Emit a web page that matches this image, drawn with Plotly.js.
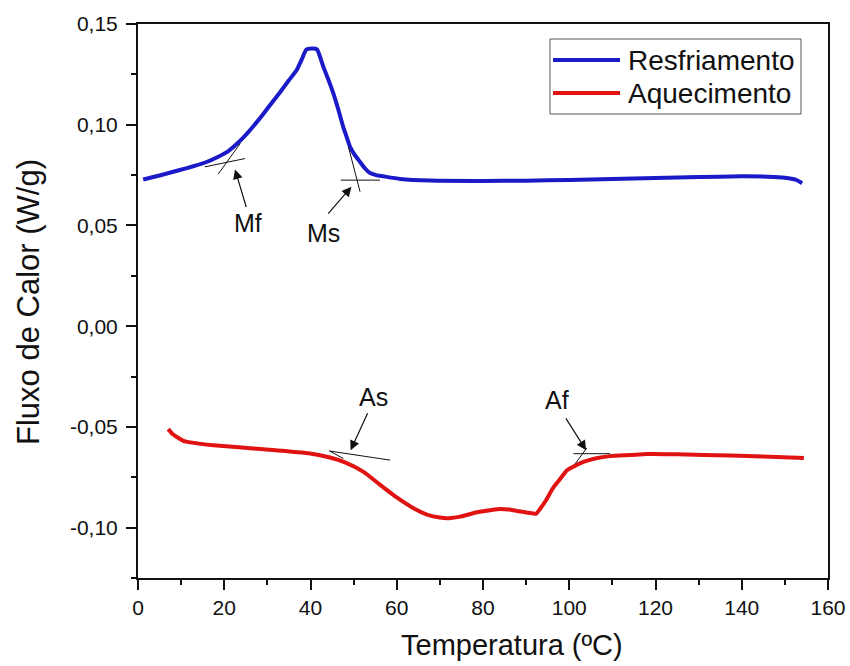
<!DOCTYPE html>
<html>
<head>
<meta charset="utf-8">
<script src="https://cdn.plot.ly/plotly-3.0.1.min.js"></script>
<style>html,body{margin:0;padding:0;background:#fff;}#chart{width:850px;height:666px;}</style>
</head>
<body>
<div id="chart"></div>
<script>
// Resfriamento (cooling) curve
const coolT = [1.2, 5, 9.7, 13, 15.9, 18.5, 20.6, 22.5, 24.4, 26.8, 29.1, 31, 32.9, 34.9, 36.8, 38, 39, 40.3, 41.5, 43.0, 44.2, 45.3, 46.5, 47.6, 48.4, 49.2, 50.3, 51.5, 52.6, 53.8, 55.2, 56.9, 60.8, 67.7, 80, 90, 100, 110, 120, 130, 140, 146, 150, 152.5, 154];
const coolQ = [0.0728, 0.0748, 0.0775, 0.0795, 0.0815, 0.0840, 0.0864, 0.0897, 0.0936, 0.0994, 0.1055, 0.1108, 0.1160, 0.1218, 0.1272, 0.1326, 0.1372, 0.1378, 0.1374, 0.1286, 0.1221, 0.1156, 0.1072, 0.0988, 0.0938, 0.0889, 0.0849, 0.0815, 0.0784, 0.0760, 0.0750, 0.0744, 0.0731, 0.0723, 0.0721, 0.0722, 0.0726, 0.0731, 0.0736, 0.0740, 0.0744, 0.0742, 0.0737, 0.0727, 0.0710];
// Aquecimento (heating) curve
const heatT = [7.0, 8, 10.5, 12.5, 17.5, 29.1, 39.9, 44.5, 48, 52.3, 56, 60, 64, 67, 70, 72, 75, 78.6, 82, 84.0, 86, 87.9, 90, 91.7, 92.3, 93.3, 94.5, 96.4, 98, 99.5, 101, 103.3, 106, 109.5, 114.2, 118, 125, 137.4, 145, 154.4];
const heatQ = [-0.0511, -0.0535, -0.0569, -0.0578, -0.0591, -0.0611, -0.0632, -0.0652, -0.0676, -0.0723, -0.0785, -0.0850, -0.0905, -0.0935, -0.0950, -0.0953, -0.0944, -0.0924, -0.0912, -0.0907, -0.0910, -0.0917, -0.0925, -0.0930, -0.0931, -0.0905, -0.0868, -0.0798, -0.0755, -0.0715, -0.0697, -0.0674, -0.0657, -0.0645, -0.0640, -0.0635, -0.0636, -0.0642, -0.0647, -0.0654];

// tangent construction lines [x0, x1], [y0, y1]
const mfLine1T = [15.5, 24.8], mfLine1Q = [0.0791, 0.0832];
const mfLine2T = [18.6, 23.7], mfLine2Q = [0.0755, 0.0907];
const msLine1T = [47.0, 56.1], msLine1Q = [0.0725, 0.0725];
const msLine2T = [48.8, 51.5], msLine2Q = [0.0890, 0.0667];
const asLine1T = [44.5, 58.5], asLine1Q = [-0.0620, -0.0665];
const asLine2T = [44.3, 47.6], asLine2Q = [-0.0618, -0.0657];
const afLine1T = [101.0, 109.5], afLine1Q = [-0.0633, -0.0633];
const afLine2T = [101.4, 104.1], afLine2Q = [-0.0682, -0.0604];

// labels: text, label position, arrow tail, arrow head
const markNames = ['Mf', 'Ms', 'As', 'Af'];
const markLabelT = [25.6, 43.0, 54.6, 97.1];
const markLabelQ = [0.0510, 0.0463, -0.0351, -0.0367];
const arrowTailT = [25.2, 43.8, 53.4, 99.0];
const arrowTailQ = [0.0584, 0.0551, -0.0425, -0.0450];
const arrowHeadT = [22.5, 49.5, 49.3, 103.9];
const arrowHeadQ = [0.0778, 0.0692, -0.0616, -0.0616];

const xTickVals = [0, 20, 40, 60, 80, 100, 120, 140, 160];
const xTickText = ['0', '20', '40', '60', '80', '100', '120', '140', '160'];
const yTickVals = [-0.10, -0.05, 0, 0.05, 0.10, 0.15];
const yTickText = ['-0,10', '-0,05', '0,00', '0,05', '0,10', '0,15'];

const seriesNames = ['Resfriamento', 'Aquecimento'];
const xTitle = 'Temperatura (ºC)';
const yTitle = 'Fluxo de Calor (W/g)';
const blue = '#1a1ac8', red = '#e01212';
const FONT = 'Liberation Sans, Arial, sans-serif';

const L = 138, R = 828, T = 24, B = 578;
const px = v => (v - L) / (R - L);
const py = v => (B - v) / (B - T);

function thin(xs, ys) {
  return {x: xs, y: ys, mode: 'lines', line: {color: '#111', width: 1}, showlegend: false, hoverinfo: 'skip'};
}

const traces = [
  {x: coolT, y: coolQ, mode: 'lines', name: seriesNames[0], line: {color: blue, width: 4, shape: 'spline', smoothing: 0.5}, showlegend: false},
  {x: heatT, y: heatQ, mode: 'lines', name: seriesNames[1], line: {color: red, width: 4, shape: 'spline', smoothing: 0.5}, showlegend: false},
  thin(mfLine1T, mfLine1Q), thin(mfLine2T, mfLine2Q),
  thin(msLine1T, msLine1Q), thin(msLine2T, msLine2Q),
  thin(asLine1T, asLine1Q), thin(asLine2T, asLine2Q),
  thin(afLine1T, afLine1Q), thin(afLine2T, afLine2Q)
];

const annotations = [];
for (let i = 0; i < markNames.length; i++) {
  annotations.push({x: markLabelT[i], y: markLabelQ[i], xref: 'x', yref: 'y', text: markNames[i], showarrow: false,
    font: {family: FONT, size: 25, color: '#111'}});
  annotations.push({x: arrowHeadT[i], y: arrowHeadQ[i], xref: 'x', yref: 'y', ax: arrowTailT[i], ay: arrowTailQ[i],
    axref: 'x', ayref: 'y', text: '', showarrow: true, arrowhead: 2, arrowsize: 1.6, arrowwidth: 1.2, arrowcolor: '#111', standoff: 0});
}
// legend (drawn manually)
annotations.push({x: px(626), y: py(60), xref: 'paper', yref: 'paper', xanchor: 'left', yanchor: 'middle', text: seriesNames[0], showarrow: false, font: {family: FONT, size: 28, color: '#111'}});
annotations.push({x: px(626), y: py(93), xref: 'paper', yref: 'paper', xanchor: 'left', yanchor: 'middle', text: seriesNames[1], showarrow: false, font: {family: FONT, size: 28, color: '#111'}});
// axis titles
annotations.push({x: px(512), y: py(645), xref: 'paper', yref: 'paper', xanchor: 'center', yanchor: 'middle', text: xTitle, showarrow: false, font: {family: FONT, size: 29, color: '#111'}});
annotations.push({x: px(28), y: py(302), xref: 'paper', yref: 'paper', xanchor: 'center', yanchor: 'middle', textangle: -90, text: yTitle, showarrow: false, font: {family: FONT, size: 31, color: '#111'}});

const shapes = [
  {type: 'rect', xref: 'paper', yref: 'paper', x0: px(550), x1: px(801), y0: py(114), y1: py(39), line: {color: '#555', width: 1}},
  {type: 'line', xref: 'paper', yref: 'paper', x0: px(553), x1: px(620), y0: py(60), y1: py(60), line: {color: blue, width: 4}},
  {type: 'line', xref: 'paper', yref: 'paper', x0: px(553), x1: px(620), y0: py(93), y1: py(93), line: {color: red, width: 4}}
];

const layout = {
  width: 850, height: 666,
  margin: {l: L, r: 850 - R, t: T, b: 666 - B},
  paper_bgcolor: '#fff', plot_bgcolor: '#fff',
  showlegend: false,
  font: {family: FONT, color: '#111'},
  xaxis: {
    range: [0, 160], tickvals: xTickVals, ticktext: xTickText,
    ticks: 'outside', ticklen: 10, tickwidth: 2, tickcolor: '#111',
    minor: {dtick: 10, ticks: 'outside', ticklen: 5, tickwidth: 2, tickcolor: '#111', showgrid: false},
    showline: true, linewidth: 2, linecolor: '#111', mirror: true,
    showgrid: false, zeroline: false,
    tickfont: {family: FONT, size: 21, color: '#111'}
  },
  yaxis: {
    range: [-0.125, 0.15], tickvals: yTickVals, ticktext: yTickText,
    ticks: 'outside', ticklen: 10, tickwidth: 2, tickcolor: '#111',
    minor: {dtick: 0.025, tick0: 0, ticks: 'outside', ticklen: 5, tickwidth: 2, tickcolor: '#111', showgrid: false},
    showline: true, linewidth: 2, linecolor: '#111', mirror: true,
    showgrid: false, zeroline: false, ticklabelstandoff: 4,
    tickfont: {family: FONT, size: 21, color: '#111'}
  },
  annotations: annotations,
  shapes: shapes
};

Plotly.newPlot('chart', traces, layout, {displayModeBar: false, staticPlot: true});
</script>
</body>
</html>
